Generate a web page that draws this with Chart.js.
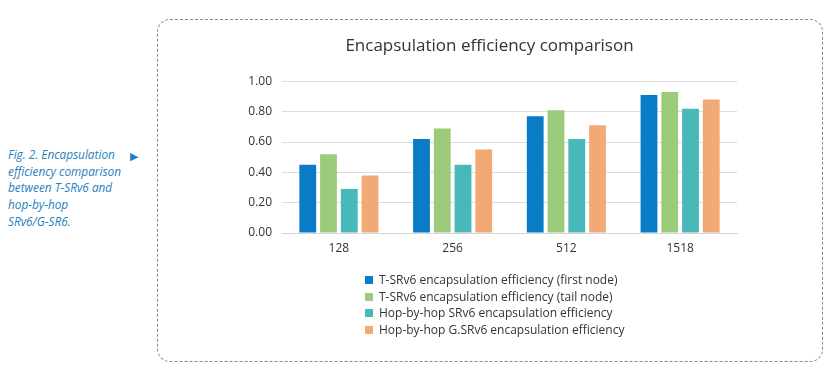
<!DOCTYPE html>
<html>
<head>
<meta charset="utf-8">
<script src="https://cdn.jsdelivr.net/npm/chart.js@4/dist/chart.umd.min.js"></script>
<style>
  body { margin: 0; background: #fff; width: 832px; height: 373px; overflow: hidden; position: relative; font-family: "Open Sans", sans-serif; }
  #frame { position: absolute; left: 157px; top: 19px; width: 666px; height: 343px; border: 1.3px dashed #8a8a8a; border-radius: 13px; box-sizing: border-box; }
  #caption { position: absolute; left: 8px; top: 146px; font-size: 11.8px; font-style: italic; line-height: 16.7px; color: #1f7fc0; }
  #arrow { position: absolute; left: 130px; top: 148px; font-size: 11px; color: #1f7fc0; }
  #chart-wrap { position: absolute; left: 0; top: 0; width: 832px; height: 373px; }
  #legend { position: absolute; left: 365px; top: 272px; font-size: 12px; color: #333; }
  #legend div { height: 16.6px; line-height: 16.6px; white-space: nowrap; }
  #legend span { display: inline-block; width: 8px; height: 8px; margin-right: 6px; vertical-align: 0px; }
</style>
</head>
<body>
<div id="frame"></div>
<div id="caption">Fig. 2. Encapsulation<br>efficiency comparison<br>between T-SRv6 and<br>hop-by-hop<br>SRv6/G-SR6.</div>
<div id="arrow">&#9654;</div>
<div id="chart-wrap"><canvas id="myChart" width="832" height="373"></canvas></div>
<div id="legend"></div>
<script>
// Packet sizes on the x axis
var categories = ["128", "256", "512", "1518"];

// Series values
var firstNode = [0.45, 0.62, 0.77, 0.91];
var tailNode = [0.52, 0.69, 0.81, 0.93];
var hopSrv6 = [0.29, 0.45, 0.62, 0.82];
var hopGsrv6 = [0.38, 0.55, 0.71, 0.88];

var seriesNames = [
    "T-SRv6 encapsulation efficiency (first node)",
    "T-SRv6 encapsulation efficiency (tail node)",
    "Hop-by-hop SRv6 encapsulation efficiency",
    "Hop-by-hop G.SRv6 encapsulation efficiency"
];
var seriesColors = ["#0a7cc5", "#9dcb7c", "#48b9b8", "#f1aa76"];

var yTicks = [0, 0.2, 0.4, 0.6, 0.8, 1.0];

var values = [firstNode, tailNode, hopSrv6, hopGsrv6];
var datasets = [];
for (var i = 0; i < values.length; i++) {
    datasets.push({
        label: seriesNames[i],
        data: values[i],
        backgroundColor: seriesColors[i],
        categoryPercentage: 0.73,
        barPercentage: 0.81
    });
}

Chart.defaults.font.family = "'Open Sans', sans-serif";
Chart.defaults.color = "#333";

var ctx = document.getElementById("myChart").getContext("2d");
var chart = new Chart(ctx, {
    type: "bar",
    data: { labels: categories, datasets: datasets },
    options: {
        responsive: false,
        animation: false,
        layout: { padding: { left: 242, right: 95, top: 0, bottom: 110 } },
        plugins: {
            legend: { display: false },
            tooltip: { enabled: false },
            title: {
                display: true,
                text: "Encapsulation efficiency comparison",
                color: "#333",
                font: { size: 17, weight: "normal" },
                padding: { top: 36, bottom: 25 }
            }
        },
        scales: {
            x: {
                grid: { display: false, drawTicks: false },
                border: { color: "#d4d4d4" },
                ticks: { padding: 8, font: { size: 12 } },
                afterFit: function(s) { s.height = 30; }
            },
            y: {
                min: 0,
                max: 1,
                afterBuildTicks: function(s) { s.ticks = yTicks.map(function(v) { return { value: v }; }); },
                grid: { color: "#dcdcdc", drawTicks: false },
                border: { display: false },
                ticks: {
                    padding: 10,
                    font: { size: 12 },
                    callback: function(v) { return Number(v).toFixed(2); }
                },
                afterFit: function(s) { s.width = 40; }
            }
        }
    }
});

// Build the legend as a vertical list below the chart
var legendHtml = "";
for (var k = 0; k < seriesNames.length; k++) {
    legendHtml += "<div><span style=\"background:" + seriesColors[k] + "\"></span>" + seriesNames[k] + "</div>";
}
document.getElementById("legend").innerHTML = legendHtml;
</script>
</body>
</html>
